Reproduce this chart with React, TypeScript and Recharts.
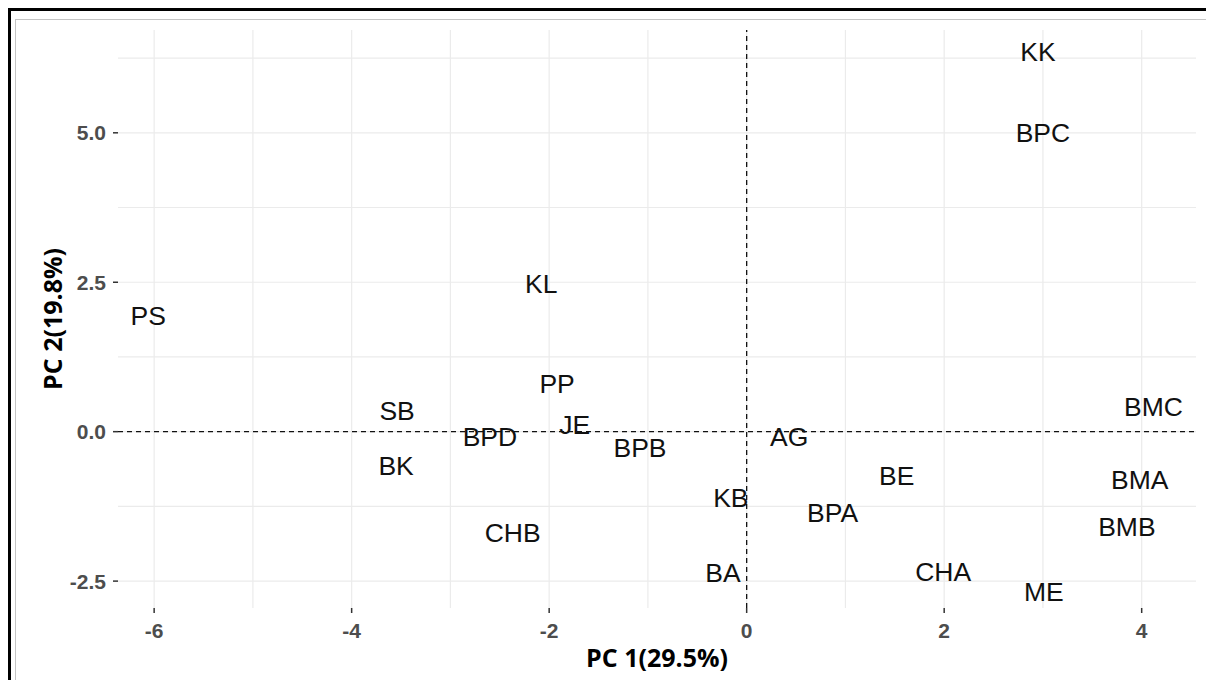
import React from 'react';
import { ScatterChart, Scatter, XAxis, YAxis, ReferenceLine } from 'recharts';

const names = ['KK', 'BPC', 'KL', 'PS', 'PP', 'SB', 'BPD', 'JE', 'BPB', 'AG', 'BE', 'BMC', 'BMA', 'BMB', 'BK', 'KB', 'BPA', 'CHB', 'BA', 'CHA', 'ME'];
const pc1 = [2.95, 3.0, -2.08, -6.06, -1.92, -3.54, -2.6, -1.74, -1.08, 0.43, 1.52, 4.12, 3.98, 3.85, -3.55, -0.16, 0.87, -2.37, -0.24, 1.99, 3.01];
const pc2 = [6.36, 5.0, 2.47, 1.94, 0.8, 0.34, -0.09, 0.11, -0.27, -0.09, -0.74, 0.41, -0.81, -1.59, -0.58, -1.11, -1.36, -1.7, -2.37, -2.35, -2.69];

const xTicks = [-6, -4, -2, 0, 2, 4];
const yTicks = [-2.5, 0, 2.5, 5];
const xMinor = [-5, -3, -1, 1, 3];
const yMinor = [-1.25, 1.25, 3.75, 6.25];
const xDomain = [-6.366, 4.55];
const yDomain = [-2.95, 6.72];

const data = names.map((n, i) => ({ name: n, x: pc1[i], y: pc2[i] }));

const LabelShape = (props: any) => {
  const { cx, cy, payload } = props;
  return (
    <text
      x={cx}
      y={cy}
      textAnchor="middle"
      dominantBaseline="central"
      fontFamily="'Liberation Sans', Arial, sans-serif"
      fontSize={26.5}
      fill="#111"
    >
      {payload.name}
    </text>
  );
};

const tickStyle = {
  fontFamily: "'Liberation Sans', Arial, sans-serif",
  fontSize: 21,
  fontWeight: 700,
  fill: '#4d4d4d',
};

export default function App() {
  return (
    <div style={{ position: 'absolute', left: 0, top: 0, width: 1206, height: 680, background: '#fff', overflow: 'hidden' }}>
      <div style={{ position: 'absolute', left: 8, top: 8, width: 1198, height: 672, borderLeft: '3px solid #000', borderTop: '3px solid #000', boxSizing: 'border-box' }} />
      <div style={{ position: 'absolute', left: 15, top: 19, width: 1191, height: 661, borderLeft: '1px solid #c4c4c4', borderTop: '1px solid #c4c4c4', boxSizing: 'border-box' }} />
      <div style={{ position: 'absolute', left: 0, top: 0 }}>
        <ScatterChart width={1206} height={680} margin={{ top: 30, right: 10, bottom: 32, left: 0 }}>
          {xTicks.concat(xMinor).map((v) => (
            <ReferenceLine key={'vx' + v} x={v} stroke="#ebebeb" strokeWidth={1.2} ifOverflow="visible" />
          ))}
          {yTicks.concat(yMinor).map((v) => (
            <ReferenceLine key={'hy' + v} y={v} stroke="#ebebeb" strokeWidth={1.2} ifOverflow="visible" />
          ))}
          <XAxis
            type="number"
            dataKey="x"
            domain={xDomain}
            ticks={xTicks}
            allowDataOverflow
            axisLine={false}
            tickLine={{ stroke: '#333', strokeWidth: 1.5 }}
            tickSize={5}
            tickMargin={10}
            height={40}
            tick={tickStyle}
            label={{
              value: 'PC 1(29.5%)',
              position: 'bottom',
              offset: 1,
              style: { fontFamily: "'Open Sans', sans-serif", fontSize: 25, fontWeight: 700, fill: '#000' },
            }}
          />
          <YAxis
            type="number"
            dataKey="y"
            domain={yDomain}
            ticks={yTicks}
            tickFormatter={(v: number) => v.toFixed(1)}
            allowDataOverflow
            axisLine={false}
            tickLine={{ stroke: '#333', strokeWidth: 1.5 }}
            tickSize={5}
            tickMargin={7}
            width={118}
            tick={tickStyle}
            label={{
              value: 'PC 2(19.8%)',
              angle: -90,
              position: 'insideLeft',
              offset: 53,
              style: { textAnchor: 'middle', fontFamily: "'Open Sans', sans-serif", fontSize: 25, fontWeight: 700, fill: '#000' },
            }}
          />
          <ReferenceLine x={0} stroke="#111" strokeWidth={1.3} strokeDasharray="5 4" />
          <ReferenceLine y={0} stroke="#111" strokeWidth={1.3} strokeDasharray="5 4" />
          <Scatter data={data} shape={<LabelShape />} isAnimationActive={false} />
        </ScatterChart>
      </div>
    </div>
  );
}
